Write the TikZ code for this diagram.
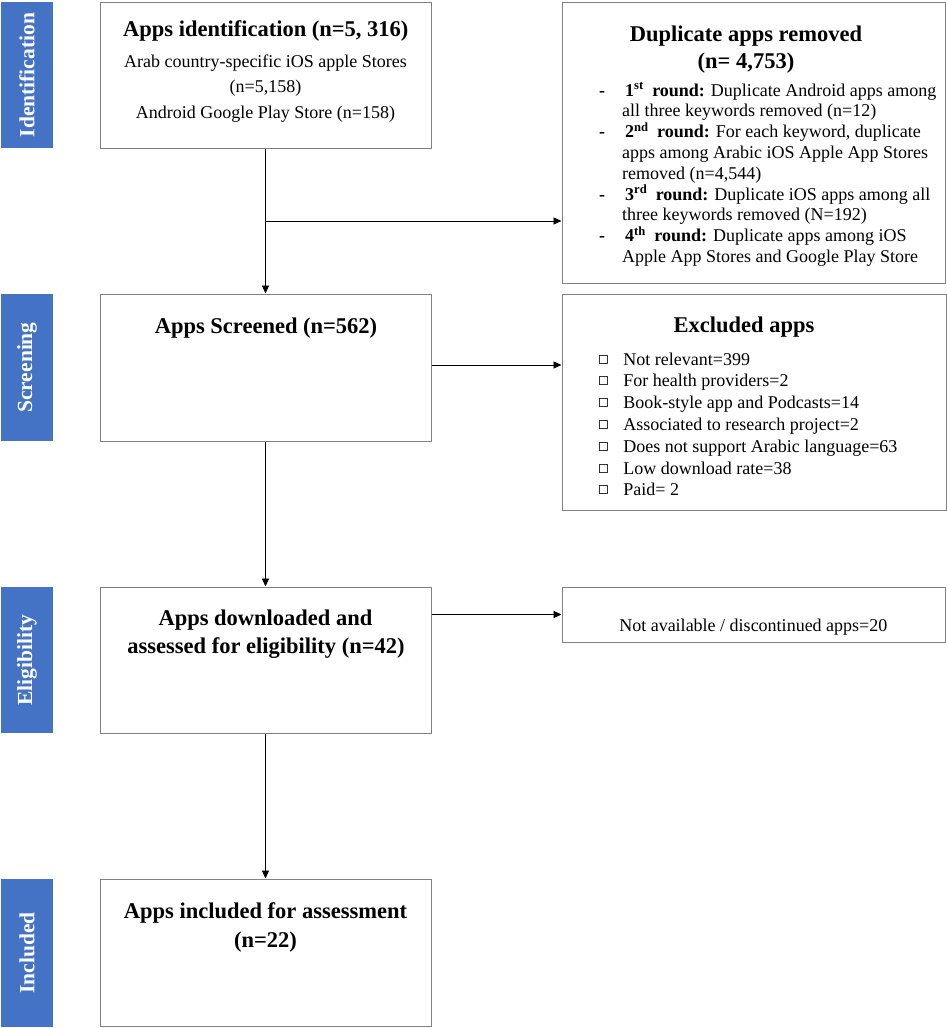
\documentclass[tikz,border=0pt]{standalone}
\usepackage{fontspec}
\setmainfont{Liberation Serif}
\usetikzlibrary{arrows.meta}
\definecolor{barblue}{HTML}{4472C4}
\definecolor{boxgray}{HTML}{808080}
\newcommand\chkbox{\tikz[baseline=0pt]\draw[line width=0.6pt,black!80] (0pt,2pt) rectangle (8.5pt,10pt);}
\begin{document}
\begin{tikzpicture}[x=1pt,y=-1pt,
  bar/.style={fill=barblue,draw=none,minimum width=52pt,inner sep=0},
  box/.style={draw=boxgray,line width=1pt,inner sep=0,fill=white},
  arr/.style={draw=black,line width=0.9pt,-{Triangle[length=8pt,width=7pt]}},
  lbl/.style={text=white,font=\fontsize{21.5}{24}\selectfont\bfseries,rotate=90,inner sep=0},
  ttl/.style={font=\fontsize{22.5}{27}\selectfont\bfseries,anchor=base,inner sep=0},
  txt/.style={font=\fontsize{18}{21}\selectfont,anchor=base,inner sep=0},
  txl/.style={font=\fontsize{18}{21}\selectfont,anchor=base west,inner sep=0}]
\useasboundingbox (0,0) rectangle (947,1028);

% stage bars
\node[bar,minimum height=146pt] (bid) at (27,75) {};
\node[bar,minimum height=147pt] (bscr) at (27,367.5) {};
\node[bar,minimum height=146pt] (belg) at (27,660) {};
\node[bar,minimum height=148pt] (binc) at (27,953) {};
\node[lbl] (lid) at (bid) {Identification};
\node[lbl] (lscr) at (bscr) {Screening};
\node[lbl] (lelg) at (belg) {Eligibility};
\node[lbl] (linc) at (binc) {Included};

% main boxes
\node[box,minimum width=331pt,minimum height=146pt] (ident) at (265.5,75) {};
\node[box,minimum width=331pt,minimum height=147pt] (screen) at (265.5,367.5) {};
\node[box,minimum width=331pt,minimum height=146pt] (elig) at (265.5,660) {};
\node[box,minimum width=331pt,minimum height=147pt] (incl) at (265.5,952.5) {};

% side boxes
\node[box,minimum width=383pt,minimum height=281pt] (dup) at (753.5,142.5) {};
\node[box,minimum width=384pt,minimum height=216pt] (excl) at (754,402) {};
\node[box,minimum width=383pt,minimum height=55pt] (na) at (753.5,614.5) {};

% arrows
\coordinate (j1) at (265.5,221);
\draw[arr] (ident.south) -- (screen.north);
\draw[arr] (j1) -- (j1 -| dup.west);
\draw[arr] ([yshift=2.5pt]screen.east) -- ([yshift=2.5pt]screen.east -| excl.west);
\draw[arr] (screen.south) -- (elig.north);
\draw[arr] (elig.east |- na.west) -- (na.west);
\draw[arr] (elig.south) -- (incl.north);

% identification text
\node[ttl] (tid) at (265.8,36) {Apps identification (n=5, 316)};
\node[txt] (tid1) at (265.5,67) {Arab country-specific iOS apple Stores};
\node[txt] (tid2) at (265.5,92.5) {(n=5,158)};
\node[txt] (tid3) at (265.5,118) {Android Google Play Store (n=158)};

% duplicate text
\node[ttl] (tdup1) at (746,41) {Duplicate apps removed};
\node[ttl] (tdup2) at (746,68) {(n= 4,753)};
\node[txl] (dd1) at (599,96) {\textbf{-}};
\node[txl] (dd2) at (599,137.6) {\textbf{-}};
\node[txl] (dd3) at (599,200) {\textbf{-}};
\node[txl] (dd4) at (599,241.6) {\textbf{-}};
\node[txl] (dl1) at (625,96) {\textbf{1\textsuperscript{st}\hspace{4pt} round:} Duplicate Android apps among};
\node[txl] (dl2) at (622,116.8) {all three keywords removed (n=12)};
\node[txl] (dl3) at (625,137.6) {\textbf{2\textsuperscript{nd}\hspace{4pt} round:} For each keyword, duplicate};
\node[txl] (dl4) at (622,158.4) {apps among Arabic iOS Apple App Stores};
\node[txl] (dl5) at (622,179.2) {removed (n=4,544)};
\node[txl] (dl6) at (625,200) {\textbf{3\textsuperscript{rd}\hspace{4pt} round:} Duplicate iOS apps among all};
\node[txl] (dl7) at (622,220.8) {three keywords removed (N=192)};
\node[txl] (dl8) at (625,241.6) {\textbf{4\textsuperscript{th}\hspace{4pt} round:} Duplicate apps among iOS};
\node[txl] (dl9) at (622,262.4) {Apple App Stores and Google Play Store};

% screened text
\node[ttl] (tscr) at (266,333) {Apps Screened (n=562)};

% excluded text
\node[ttl] (texc) at (744,332) {Excluded apps};
\node[txl] (e1) at (598.3,365) {\chkbox\hspace{15.8pt}Not relevant=399};
\node[txl] (e2) at (598.3,386.7) {\chkbox\hspace{15.8pt}For health providers=2};
\node[txl] (e3) at (598.3,408.3) {\chkbox\hspace{15.8pt}Book-style app and Podcasts=14};
\node[txl] (e4) at (598.3,430) {\chkbox\hspace{15.8pt}Associated to research project=2};
\node[txl] (e5) at (598.3,452) {\chkbox\hspace{15.8pt}Does not support Arabic language=63};
\node[txl] (e6) at (598.3,474) {\chkbox\hspace{15.8pt}Low download rate=38};
\node[txl] (e7) at (598.3,495.7) {\chkbox\hspace{15.8pt}Paid= 2};

% eligibility text
\node[ttl] (tel1) at (265.5,625) {Apps downloaded and};
\node[ttl] (tel2) at (266,653) {assessed for eligibility (n=42)};
\node[txt] (tna) at (753.3,631) {Not available / discontinued apps=20};

% included text
\node[ttl] (tin1) at (265.5,918) {Apps included for assessment};
\node[ttl] (tin2) at (265.5,947) {(n=22)};
\end{tikzpicture}
\end{document}
